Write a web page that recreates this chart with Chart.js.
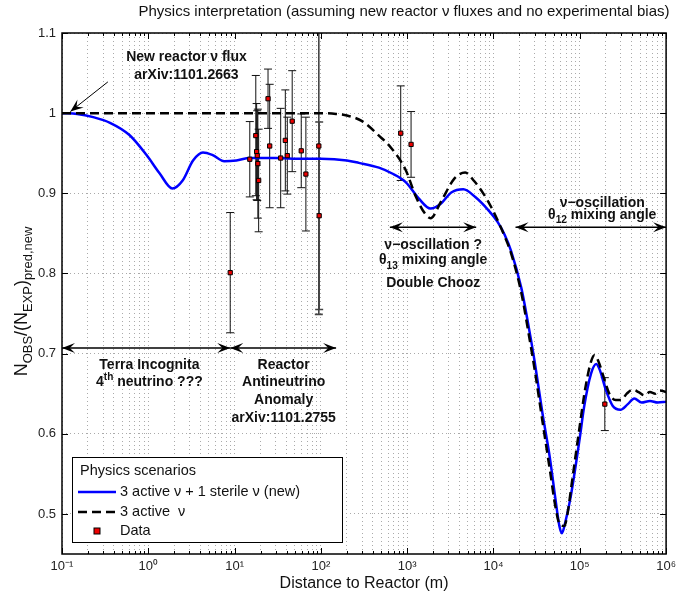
<!DOCTYPE html>
<html><head><meta charset="utf-8">
<script src="https://cdn.jsdelivr.net/npm/chart.js@4"></script>
<style>html,body{margin:0;padding:0;background:#fff}</style>
</head><body>
<canvas id="c" width="681" height="596"></canvas>
<script>
// 3 active + 1 sterile (blue)
const blueDist=[0.1,0.15,0.23,0.36,0.6,0.95,1.35,1.9,2.5,3.3,4.3,5.5,7.6,10.5,15,30,60,100,200,275,470,660,960,1350,1860,2450,3240,4470,6200,8700,11200,13500,16000,21000,26000,30000,37000,45000,52000,58000,62000,68000,78000,100000,112000,135000,155000,170000,200000,240000,296000,360000,428000,520000,650000,800000,1000000];
const blueRatio=[1.0,0.999,0.995,0.988,0.973,0.948,0.925,0.906,0.916,0.941,0.951,0.948,0.94,0.941,0.944,0.944,0.943,0.943,0.941,0.938,0.932,0.925,0.914,0.894,0.881,0.887,0.901,0.905,0.895,0.879,0.864,0.848,0.828,0.782,0.729,0.69,0.625,0.57,0.52,0.485,0.476,0.49,0.52,0.595,0.633,0.675,0.687,0.68,0.655,0.635,0.63,0.637,0.644,0.639,0.641,0.639,0.64];
// 3 active (dashed)
const dashDist=[0.1,1,10,100,150,200,300,470,660,960,1270,1600,1860,2500,3500,4700,6000,7600,9500,11200,13500,16000,21000,26000,30000,37000,45000,52000,58000,66000,72000,80000,90000,100000,115000,135000,148000,165000,190000,220000,260000,300000,350000,410000,480000,560000,650000,750000,850000,1000000];
const dashRatio=[1.0,1.0,1.0,1.0,0.999,0.997,0.99,0.972,0.956,0.929,0.895,0.875,0.869,0.891,0.918,0.926,0.915,0.9,0.882,0.866,0.846,0.825,0.776,0.72,0.68,0.615,0.555,0.51,0.488,0.485,0.5,0.535,0.575,0.61,0.655,0.69,0.698,0.69,0.67,0.65,0.642,0.642,0.65,0.655,0.652,0.648,0.652,0.65,0.654,0.652];
// measurements
const dataDist=[8.9,15.0,17.6,18.0,18.3,18.6,19.0,24.4,25.5,34.2,38.7,40.8,46.5,59.2,67,94.6,95.5,841,1109,195000];
const dataRatio=[0.801,0.9425,0.972,0.952,0.947,0.937,0.916,1.018,0.959,0.944,0.966,0.947,0.99,0.953,0.924,0.959,0.872,0.975,0.961,0.637];
const dataErr=[0.075,0.047,0.075,0.06,0.056,0.068,0.064,0.037,0.077,0.062,0.063,0.048,0.063,0.046,0.071,0.21,0.117,0.059,0.041,0.033];

const decades=[-1,0,1,2,3,4,5,6];
const yTickVals=[0.5,0.6,0.7,0.8,0.9,1.0,1.1];

const xTickVals=[];
decades.forEach(p=>{for(let m=1;m<10;m++){const v=m*Math.pow(10,p); if(v<=1e6+1) xTickVals.push(v);}});
const SUP={'-':'⁻','0':'⁰','1':'¹','2':'²','3':'³','4':'⁴','5':'⁵','6':'⁶'};
function isDecade(v){const l=Math.log10(v);return Math.abs(l-Math.round(l))<1e-9;}
function xLabel(v){if(!isDecade(v))return '';return '10'+String(Math.round(Math.log10(v))).split('').map(ch=>SUP[ch]).join('');}

const FONT='"Liberation Sans", Arial, Helvetica, sans-serif';
function rich(ctx,parts,x,y,size,bold,align){
  const f=s=>(bold?'bold ':'')+s+'px '+FONT;
  let w=0;
  parts.forEach(p=>{ctx.font=f(p[1]?size*0.72:size);w+=ctx.measureText(p[0]).width;});
  let cx=align==='left'?x:x-w/2;
  ctx.textAlign='left';ctx.textBaseline='middle';
  parts.forEach(p=>{
    const s=p[1]?size*0.72:size; ctx.font=f(s);
    const dy=p[1]==='sub'?size*0.38:p[1]==='sup'?-size*0.38:0;
    ctx.fillText(p[0],cx,y+dy); cx+=ctx.measureText(p[0]).width;
  });
}
function head(ctx,x1,y1,x2,y2){
  const a=Math.atan2(y2-y1,x2-x1),L=13,W=5;
  ctx.beginPath();
  ctx.moveTo(x2,y2);
  ctx.lineTo(x2-L*Math.cos(a)+W*Math.sin(a),y2-L*Math.sin(a)-W*Math.cos(a));
  ctx.lineTo(x2-L*0.6*Math.cos(a),y2-L*0.6*Math.sin(a));
  ctx.lineTo(x2-L*Math.cos(a)-W*Math.sin(a),y2-L*Math.sin(a)+W*Math.cos(a));
  ctx.closePath();ctx.fill();
}
function arrow(ctx,x1,y1,x2,y2,both){
  ctx.beginPath();ctx.moveTo(x1,y1);ctx.lineTo(x2,y2);ctx.stroke();
  head(ctx,x1,y1,x2,y2); if(both) head(ctx,x2,y2,x1,y1);
}

// annotations in data coordinates
const arrows=[
  {x1:0.34,y1:1.039,x2:0.125,y2:1.002,both:false,w:1},
  {x1:0.1,y1:0.707,x2:8.9,y2:0.707,both:true,w:1.5},
  {x1:8.9,y1:0.707,x2:150,y2:0.707,both:true,w:1.5},
  {x1:630,y1:0.8575,x2:6300,y2:0.8575,both:true,w:1.5},
  {x1:18000,y1:0.8575,x2:1e6,y2:0.8575,both:true,w:1.5}
];
const notes=[
  {x:2.77,y:1.07,parts:[['New reactor ν flux']]},
  {x:2.77,y:1.0475,parts:[['arXiv:1101.2663']]},
  {x:1.03,y:0.686,parts:[['Terra Incognita']]},
  {x:1.03,y:0.664,parts:[['4'],['th','sup'],[' neutrino ???']]},
  {x:37,y:0.686,parts:[['Reactor']]},
  {x:37,y:0.664,parts:[['Antineutrino']]},
  {x:37,y:0.642,parts:[['Anomaly']]},
  {x:37,y:0.62,parts:[['arXiv:1101.2755']]},
  {x:2000,y:0.835,parts:[['ν−oscillation ?']]},
  {x:2000,y:0.816,parts:[['θ'],['13','sub'],[' mixing angle']]},
  {x:2000,y:0.7875,parts:[['Double Chooz']]},
  {x:182000,y:0.8875,parts:[['ν−oscillation']]},
  {x:182000,y:0.8725,parts:[['θ'],['12','sub'],[' mixing angle']]}
];

const extras={id:'extras',
  beforeDatasetsDraw(c){
    const {ctx,chartArea:a,scales:{x,y}}=c;
    ctx.save();ctx.beginPath();ctx.rect(a.left,a.top,a.width,a.height);ctx.clip();
    dataDist.forEach((d,i)=>{
      const px=x.getPixelForValue(d),lo=y.getPixelForValue(dataRatio[i]-dataErr[i]),hi=y.getPixelForValue(dataRatio[i]+dataErr[i]);
      const long=dataErr[i]>0.1;
      ctx.strokeStyle=long?'#444':'#111';ctx.lineWidth=long?1.6:1;
      ctx.beginPath();ctx.moveTo(px,lo);ctx.lineTo(px,hi);
      ctx.moveTo(px-4,lo);ctx.lineTo(px+4,lo);ctx.moveTo(px-4,hi);ctx.lineTo(px+4,hi);ctx.stroke();
    });
    ctx.restore();
  },
  afterDraw(c){
    const {ctx,chartArea:a,scales:{x,y}}=c;
    ctx.save();
    // inside ticks
    ctx.strokeStyle='#000';ctx.lineWidth=1;ctx.beginPath();
    xTickVals.forEach(v=>{const px=Math.round(x.getPixelForValue(v))+0.5,l=isDecade(v)?6:3;
      ctx.moveTo(px,a.bottom);ctx.lineTo(px,a.bottom-l);ctx.moveTo(px,a.top);ctx.lineTo(px,a.top+l);});
    yTickVals.forEach(v=>{const py=Math.round(y.getPixelForValue(v))+0.5;
      ctx.moveTo(a.left,py);ctx.lineTo(a.left+6,py);ctx.moveTo(a.right,py);ctx.lineTo(a.right-6,py);});
    ctx.stroke();
    // box
    ctx.lineWidth=1.5;ctx.strokeRect(a.left,a.top,a.width,a.height);
    // arrows
    ctx.fillStyle='#000';
    arrows.forEach(r=>{
      ctx.lineWidth=r.w;
      arrow(ctx,x.getPixelForValue(r.x1),y.getPixelForValue(r.y1),x.getPixelForValue(r.x2),y.getPixelForValue(r.y2),r.both);
    });
    // notes
    ctx.fillStyle='#111';
    notes.forEach(n=>rich(ctx,n.parts,x.getPixelForValue(n.x),y.getPixelForValue(n.y),14,true,'center'));
    // legend
    const L={x:72,y:457,w:270,h:85};
    ctx.fillStyle='#fff';ctx.fillRect(L.x,L.y,L.w,L.h);
    ctx.strokeStyle='#000';ctx.lineWidth=1;ctx.strokeRect(L.x+0.5,L.y+0.5,L.w,L.h);
    ctx.fillStyle='#111';
    rich(ctx,[['Physics scenarios']],80,471,14.5,false,'left');
    ctx.lineWidth=2.5;ctx.strokeStyle='#0000ff';ctx.beginPath();ctx.moveTo(78,492);ctx.lineTo(116,492);ctx.stroke();
    rich(ctx,[['3 active ν + 1 sterile ν (new)']],120,492,14.5,false,'left');
    ctx.strokeStyle='#000';ctx.setLineDash([9,5]);ctx.beginPath();ctx.moveTo(78,512);ctx.lineTo(116,512);ctx.stroke();ctx.setLineDash([]);
    rich(ctx,[['3 active  ν']],120,512,14.5,false,'left');
    ctx.fillStyle='#e00';ctx.fillRect(94,528,6,6);ctx.lineWidth=1;ctx.strokeRect(94,528,6,6);
    ctx.fillStyle='#111';
    rich(ctx,[['Data']],120,531,14.5,false,'left');
    // titles
    ctx.fillStyle='#111';
    rich(ctx,[['Physics interpretation (assuming new reactor ν fluxes and no experimental bias)']],404,12,15,false,'center');
    rich(ctx,[['Distance to Reactor (m)']],(a.left+a.right)/2,584,16,false,'center');
    ctx.translate(22,(a.top+a.bottom)/2+8);ctx.rotate(-Math.PI/2);
    rich(ctx,[['N'],['OBS','sub'],['/(N'],['EXP','sub'],[')'],['pred,new','sub']],0,0,18,false,'center');
    ctx.restore();
  }
};

new Chart(document.getElementById('c'),{
  type:'line',
  data:{datasets:[
    {label:'3 active ν + 1 sterile ν (new)',data:blueDist.map((d,i)=>({x:d,y:blueRatio[i]})),borderColor:'#0000ff',borderWidth:2.5,pointRadius:0,cubicInterpolationMode:'monotone',order:2},
    {label:'3 active ν',data:dashDist.map((d,i)=>({x:d,y:dashRatio[i]})),borderColor:'#000',borderDash:[9,5],borderWidth:2.5,pointRadius:0,cubicInterpolationMode:'monotone',order:1},
    {label:'Data',type:'scatter',data:dataDist.map((d,i)=>({x:d,y:dataRatio[i]})),pointStyle:'rect',pointRadius:3,backgroundColor:'#e00',borderColor:'#000',borderWidth:1,order:0}
  ]},
  options:{responsive:false,animation:false,devicePixelRatio:1,
    layout:{padding:{top:33,right:12,left:0,bottom:0}},
    plugins:{legend:{display:false},tooltip:{enabled:false}},
    scales:{
      x:{type:'logarithmic',min:0.1,max:1e6,
        afterBuildTicks:s=>{s.ticks=xTickVals.map(v=>({value:v,major:isDecade(v)}));},
        afterFit:s=>{s.height=42;},
        ticks:{autoSkip:false,maxRotation:0,minRotation:0,callback:v=>xLabel(v),font:{family:FONT,size:13},color:'#222',padding:5},
        grid:{color:'#aaa',lineWidth:1,drawTicks:false},
        border:{display:false,dash:[1,3]}},
      y:{type:'linear',min:0.45,max:1.1,
        afterBuildTicks:s=>{s.ticks=yTickVals.map(v=>({value:v}));},
        afterFit:s=>{s.width=62;},
        ticks:{callback:v=>Math.abs(v-1)<1e-9?'1':v.toFixed(1),font:{family:FONT,size:13},color:'#222',padding:6},
        grid:{color:'#aaa',lineWidth:1,drawTicks:false},
        border:{display:false,dash:[1,3]}}
    }
  },
  plugins:[extras]
});
</script>
</body></html>
